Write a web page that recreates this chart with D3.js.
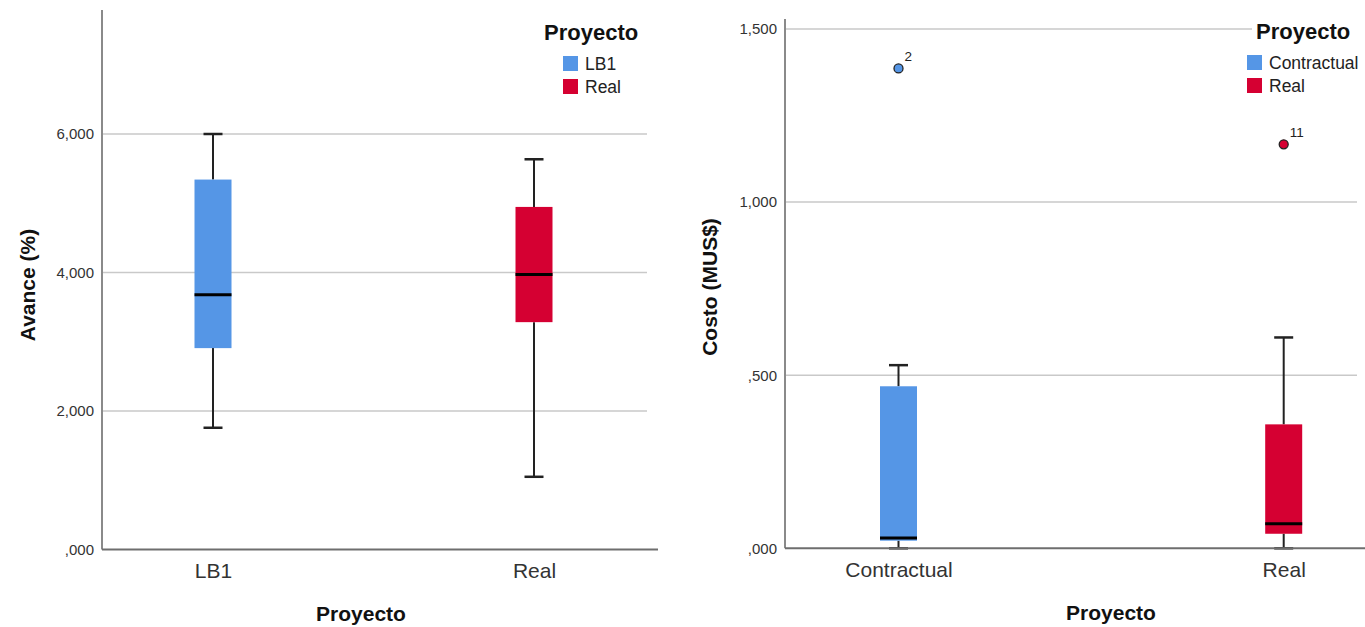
<!DOCTYPE html>
<html>
<head>
<meta charset="utf-8">
<script src="https://cdn.jsdelivr.net/npm/d3@7"></script>
<style>
  html, body { margin: 0; padding: 0; background: #fff; }
  svg { display: block; font-family: "Liberation Sans", Arial, sans-serif; }
</style>
</head>
<body>
<svg id="chart" width="1365" height="627"></svg>
<script>
// ---------- DATA ----------
const avanceCategories = ["LB1", "Real"];
const avanceMin    = [1.758, 1.050];
const avanceQ1     = [2.908, 3.283];
const avanceMedian = [3.677, 3.971];
const avanceQ3     = [5.342, 4.947];
const avanceMax    = [6.000, 5.635];
const avanceTicks  = [0, 2, 4, 6];

const costoCategories = ["Contractual", "Real"];
const costoMin    = [0.000, 0.000];
const costoQ1     = [0.022, 0.042];
const costoMedian = [0.030, 0.071];
const costoQ3     = [0.468, 0.358];
const costoMax    = [0.529, 0.609];
const costoOutlierCategory = ["Contractual", "Real"];
const costoOutlierValue    = [1.386, 1.167];
const costoOutlierLabel    = ["2", "11"];
const costoTicks  = [0, 0.5, 1.0, 1.5];

const seriesColors = ["#5596e6", "#d50032"];
const legendTitle = "Proyecto";
const xTitle = "Proyecto";
const avanceTitle = "Avance (%)";
const costoTitle = "Costo (MUS$)";

// ---------- HELPERS ----------
const fmt = v => {
  const s = v.toFixed(3).replace(".", ",");
  return s.startsWith("0,") ? s.slice(1) : s;
};

const svg = d3.select("#chart");

function panel(cfg) {
  const g = svg.append("g");
  const y = d3.scaleLinear().domain([0, cfg.refVal]).range([cfg.y0, cfg.yRef]);
  const x = d3.scalePoint().domain(cfg.categories).range(cfg.xRange);
  const color = d3.scaleOrdinal().domain(cfg.categories).range(seriesColors);

  // grid lines
  g.selectAll("line.grid").data(cfg.ticks.filter(t => t > 0)).enter()
    .append("line").attr("class", "grid")
    .attr("x1", cfg.axisX).attr("x2", cfg.gridEnd)
    .attr("y1", d => y(d)).attr("y2", d => y(d))
    .attr("stroke", "#c9c9c9").attr("stroke-width", 1.5);

  // y tick labels via d3 axis
  const yAxis = d3.axisLeft(y).tickValues(cfg.ticks).tickFormat(fmt).tickSize(0).tickPadding(8);
  const ya = g.append("g").attr("transform", `translate(${cfg.axisX},0)`).call(yAxis);
  ya.select(".domain").remove();
  ya.selectAll("text").attr("font-size", 15).attr("fill", "#333")
    .attr("font-family", "'Liberation Sans', Arial, sans-serif");

  // x tick labels via d3 axis
  const xAxis = d3.axisBottom(x).tickSize(0).tickPadding(14);
  const xa = g.append("g").attr("transform", `translate(0,${cfg.y0})`).call(xAxis);
  xa.select(".domain").remove();
  xa.selectAll("text").attr("font-size", 21).attr("fill", "#333")
    .attr("font-family", "'Liberation Sans', Arial, sans-serif");

  const n = cfg.categories.length;
  const idx = d3.range(n);
  const boxW = 37, capW = 19;

  // whiskers
  const wg = g.append("g");
  idx.forEach(i => {
    const cx = x(cfg.categories[i]);
    wg.append("line").attr("x1", cx).attr("x2", cx)
      .attr("y1", y(cfg.max[i])).attr("y2", y(cfg.q3[i]))
      .attr("stroke", "#222").attr("stroke-width", 2);
    wg.append("line").attr("x1", cx).attr("x2", cx)
      .attr("y1", y(cfg.q1[i])).attr("y2", y(cfg.min[i]))
      .attr("stroke", "#222").attr("stroke-width", 2);
    wg.append("line").attr("x1", cx - capW / 2).attr("x2", cx + capW / 2)
      .attr("y1", y(cfg.max[i])).attr("y2", y(cfg.max[i]))
      .attr("stroke", "#222").attr("stroke-width", 2.5);
    wg.append("line").attr("x1", cx - capW / 2).attr("x2", cx + capW / 2)
      .attr("y1", y(cfg.min[i])).attr("y2", y(cfg.min[i]))
      .attr("stroke", "#222").attr("stroke-width", 2.5);
  });

  // boxes
  g.selectAll("rect.box").data(idx).enter().append("rect").attr("class", "box")
    .attr("x", i => x(cfg.categories[i]) - boxW / 2)
    .attr("width", boxW)
    .attr("y", i => y(cfg.q3[i]))
    .attr("height", i => y(cfg.q1[i]) - y(cfg.q3[i]))
    .attr("fill", i => color(cfg.categories[i]));

  // medians
  g.selectAll("line.med").data(idx).enter().append("line").attr("class", "med")
    .attr("x1", i => x(cfg.categories[i]) - boxW / 2)
    .attr("x2", i => x(cfg.categories[i]) + boxW / 2)
    .attr("y1", i => y(cfg.median[i])).attr("y2", i => y(cfg.median[i]))
    .attr("stroke", "#000").attr("stroke-width", 3);

  // outliers
  if (cfg.outCat) {
    cfg.outCat.forEach((c, k) => {
      const cx = x(c), cy = y(cfg.outVal[k]);
      g.append("circle").attr("cx", cx).attr("cy", cy).attr("r", 4.5)
        .attr("fill", color(c)).attr("stroke", "#222").attr("stroke-width", 1.3);
      g.append("text").attr("x", cx + 6).attr("y", cy - 7)
        .attr("font-size", 13.5).attr("fill", "#222").text(cfg.outLab[k]);
    });
  }

  // axis lines
  g.append("line").attr("x1", cfg.axisX).attr("x2", cfg.axisX)
    .attr("y1", cfg.axisTop).attr("y2", cfg.y0)
    .attr("stroke", "#8a8a8a").attr("stroke-width", 2);
  g.append("line").attr("x1", cfg.axisX).attr("x2", cfg.xAxisEnd)
    .attr("y1", cfg.y0).attr("y2", cfg.y0)
    .attr("stroke", "#6e6e6e").attr("stroke-width", 2);

  // axis titles
  g.append("text").attr("transform", `translate(${cfg.yTitleX},${cfg.yTitleY}) rotate(-90)`)
    .attr("text-anchor", "middle").attr("font-size", 21).attr("font-weight", "bold")
    .attr("fill", "#111").text(cfg.yTitle);
  g.append("text").attr("x", cfg.xTitleX).attr("y", cfg.xTitleY)
    .attr("text-anchor", "middle").attr("font-size", 21).attr("font-weight", "bold")
    .attr("fill", "#111").text(xTitle);

  // legend
  const lg = g.append("g").attr("transform", `translate(${cfg.legX},${cfg.legY})`);
  lg.append("rect").attr("x", -4).attr("y", -16).attr("width", cfg.legW).attr("height", 86)
    .attr("fill", "#fff");
  lg.append("text").attr("x", 0).attr("y", 0).attr("dy", "0.35em")
    .attr("font-size", 22).attr("font-weight", "bold").attr("fill", "#111").text(legendTitle);
  cfg.categories.forEach((c, i) => {
    lg.append("rect").attr("x", cfg.legSqX).attr("y", 24 + i * 23).attr("width", 15).attr("height", 15)
      .attr("fill", color(c));
    lg.append("text").attr("x", cfg.legSqX + 22).attr("y", 32 + i * 23).attr("dy", "0.35em")
      .attr("font-size", 17.5).attr("fill", "#222").text(c);
  });
}

panel({
  categories: avanceCategories, min: avanceMin, q1: avanceQ1, median: avanceMedian,
  q3: avanceQ3, max: avanceMax, ticks: avanceTicks,
  refVal: 6, y0: 549.5, yRef: 134, xRange: [213, 534],
  axisX: 102, axisTop: 10, gridEnd: 647, xAxisEnd: 658,
  yTitle: avanceTitle, yTitleX: 35, yTitleY: 285, xTitleX: 361, xTitleY: 621,
  legX: 544, legY: 32, legW: 100, legSqX: 19
});

panel({
  categories: costoCategories, min: costoMin, q1: costoQ1, median: costoMedian,
  q3: costoQ3, max: costoMax, ticks: costoTicks,
  outCat: costoOutlierCategory, outVal: costoOutlierValue, outLab: costoOutlierLabel,
  refVal: 1.5, y0: 548.3, yRef: 29, xRange: [898.5, 1283.7],
  axisX: 785, axisTop: 19, gridEnd: 1357, xAxisEnd: 1368,
  yTitle: costoTitle, yTitleX: 717, yTitleY: 287, xTitleX: 1111, xTitleY: 620,
  legX: 1256, legY: 31, legW: 112, legSqX: -9
});
</script>
</body>
</html>
